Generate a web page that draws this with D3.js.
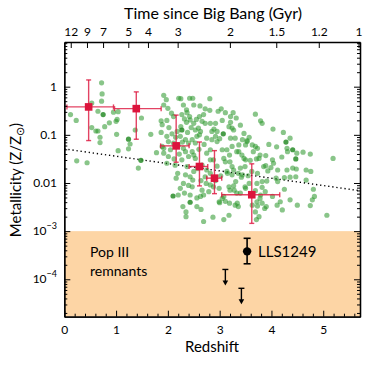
<!DOCTYPE html>
<html>
<head>
<meta charset="utf-8">
<title>Metallicity vs redshift</title>
<script src="https://cdn.jsdelivr.net/npm/d3@7"></script>
<style>
    body { margin: 0; background: #fff; }
    svg { display: block; font-family: Lato, "Open Sans", sans-serif; }
</style>
</head>
<body>
<div id="chart"></div>
<script>
// galaxies: [redshift, log10 Z/Zsun]
const galaxies = [
    [0.12,-0.58],[0.23,-0.70],[0.24,-1.54],[0.44,-1.58],[0.53,-0.34],[0.65,-0.51],[0.72,0.08],[0.73,-0.15],
    [0.72,-0.30],[0.53,-0.85],[0.61,-0.92],[0.65,-0.92],[0.69,-1.05],[0.69,-1.16],[0.78,-0.83],[0.87,-0.75],
    [0.95,-0.53],[1.04,-0.52],[1.00,-0.72],[1.02,-0.68],[1.01,-0.99],[1.04,-1.33],[1.27,-1.19],[1.24,-1.29],
    [1.37,-0.90],[1.49,-0.65],[1.67,-0.99],[1.78,-1.37],[1.43,-1.69],[1.87,-0.95],[1.87,-0.71],[1.89,-0.79],
    [1.92,-0.38],[1.92,-0.18],[1.92,-1.28],[1.89,-1.24],
    [1.97,-0.27],[2.21,-0.24],[2.25,-0.25],[2.48,-0.24],[2.42,-0.24],[2.50,-0.38],[2.81,-0.25],[2.72,-0.46],
    [2.81,-0.49],[2.36,-0.48],[2.07,-0.55],[2.11,-0.62],[1.98,-0.70],[2.27,-0.58],[2.32,-0.67],[2.37,-0.54],
    [2.42,-0.62],[2.43,-0.69],[2.36,-0.74],[2.25,-0.83],[2.50,-0.76],[2.53,-0.90],[2.59,-0.86],[2.63,-0.93],
    [2.61,-1.00],[2.69,-0.58],[2.61,-0.62],[2.72,-0.76],[2.82,-0.76],[2.85,-0.93],[2.75,-1.07],[2.85,-1.10],
    [1.98,-1.03],[2.01,-1.14],[2.11,-1.17],[2.34,-1.10],[2.40,-1.17],[2.47,-1.10],[2.56,-1.03],[2.53,-1.17],
    [2.30,-1.28],[2.24,-1.03],[2.18,-0.93],
    [2.05,-1.31],[2.34,-1.35],[2.50,-1.42],[2.82,-1.31],[2.88,-1.52],[1.92,-1.38],[2.01,-1.45],[1.98,-1.59],
    [2.14,-1.63],[2.27,-1.52],[2.37,-1.66],[2.47,-1.35],[2.53,-1.49],[2.66,-1.63],[2.75,-1.38],[2.82,-1.52],
    [2.75,-1.73],[2.72,-1.87],[2.82,-1.80],[2.43,-1.87],[2.50,-1.76],[2.16,-1.90],[2.19,-1.80],[2.30,-2.01],
    [2.47,-2.08],[2.48,-1.94],[2.69,-2.25],[2.56,-2.31],[2.82,-2.04],[2.74,-2.01],[2.66,-2.15],[2.24,-2.11],
    [2.32,-2.21],[2.29,-2.49],[2.35,-2.60],[2.35,-2.70],[2.56,-2.49],[2.64,-2.55],[2.69,-2.80],[2.87,-2.71],
    [2.43,-2.25],[2.63,-2.28],[2.79,-2.18],[2.88,-2.08],[2.34,-1.83],
    [2.02,-0.85],[2.08,-0.98],[2.15,-1.05],[2.20,-1.22],[2.28,-1.15],[2.38,-0.95],[2.45,-0.85],[2.55,-0.68],
    [2.66,-0.72],[2.70,-1.20],[2.60,-1.30],[2.40,-1.45],[2.22,-1.40],[2.12,-1.50],[2.58,-1.70],[2.64,-1.95],
    [2.40,-2.05],[2.20,-2.25],[2.00,-0.45],[2.30,-0.38],[2.62,-0.40],
    [2.97,-0.51],[3.03,-0.46],[3.11,-0.54],[3.26,-0.54],[3.21,-0.62],[3.32,-0.65],[3.69,-0.57],[3.79,-0.71],
    [3.82,-0.76],[2.92,-0.76],[2.89,-0.88],[2.95,-0.93],[3.21,-0.74],[3.18,-0.83],[3.24,-0.86],[3.27,-0.90],
    [2.92,-1.03],[3.00,-1.08],[2.95,-1.14],[3.21,-1.07],[3.30,-1.07],[3.47,-0.97],[3.44,-1.10],[3.53,-1.12],
    [3.57,-1.05],[3.37,-1.21],[3.50,-1.21],[3.63,-1.21],[3.24,-1.24],[3.73,-1.28],
    [3.05,-1.31],[3.08,-1.49],[3.11,-1.56],[3.37,-1.35],[3.47,-1.49],[3.69,-1.24],[3.76,-1.49],[3.24,-1.83],
    [3.31,-1.97],[3.18,-2.08],[2.99,-2.11],[3.05,-2.32],[2.99,-2.39],[3.34,-2.42],[3.36,-2.49],[3.18,-2.67],
    [3.08,-2.76],[3.50,-2.11],[3.57,-2.01],[3.63,-2.46],[3.69,-2.60],[3.76,-2.70],[3.82,-2.42],[3.79,-2.25],
    [3.44,-1.83],[3.40,-1.69],[3.24,-1.66],[3.15,-1.80],[3.28,-2.15],[3.14,-1.31],[3.19,-1.42],[3.20,-1.56],
    [3.14,-1.76],[3.27,-1.73],[3.36,-1.80],[3.42,-1.88],[3.49,-1.66],[3.62,-1.76],[3.73,-1.80],[3.85,-1.66],
    [3.82,-1.97],[3.72,-2.01],[3.82,-2.09],[3.88,-2.18],[3.69,-2.16],[3.49,-2.08],[3.27,-2.06],[3.33,-2.21],
    [3.20,-2.15],[3.08,-2.28],[3.43,-1.42],[3.33,-1.35],[3.53,-1.14],[3.59,-1.53],[3.71,-1.50],[3.78,-1.42],
    [3.50,-1.52],[3.40,-2.21],[3.00,-2.41],[3.11,-2.38],[3.19,-2.42],[3.30,-2.46],[3.71,-2.76],[3.72,-2.39],
    [3.78,-2.32],[3.73,-2.48],[3.90,-2.49],
    [2.95,-1.65],[3.02,-1.85],[2.92,-1.95],[3.55,-1.85],[3.65,-1.35],[3.40,-0.80],[3.05,-0.70],
    [4.03,-0.88],[4.23,-0.95],[4.36,-1.07],[4.30,-1.28],[4.31,-1.35],[4.49,-1.38],[4.61,-1.36],[4.75,-1.40],
    [5.19,-1.49],[3.89,-1.43],[4.02,-1.52],[4.04,-1.59],[4.20,-1.46],[3.89,-1.64],[3.99,-1.68],[4.12,-1.73],
    [4.30,-1.73],[4.41,-1.69],[4.48,-1.71],[4.67,-1.73],[4.76,-1.76],[3.93,-1.75],[4.09,-1.90],[4.12,-1.97],
    [4.25,-1.89],[4.36,-1.88],[4.47,-1.87],[3.91,-1.96],[4.25,-2.13],[4.81,-2.13],[4.83,-2.28],[4.79,-2.35],
    [4.02,-2.28],[4.17,-2.39],[4.36,-2.35],[4.50,-2.46],[4.75,-2.47],[4.21,-2.56],[5.07,-2.67],[3.87,-2.53],
    [4.67,-1.94],[4.11,-2.46],[3.95,-1.20],[4.10,-1.25]
];
// points that show darker (overlapping measurements)
const galaxiesDark = [
    [0.75,-0.58],[1.24,-1.09],[1.48,-1.53],[2.27,-0.90],[2.10,-2.27],[2.43,-2.40],[3.07,-0.98],
    [4.28,-1.15],[4.41,-1.31],[4.47,-1.50]
];

// binned averages (red squares)
const binZ      = [0.47, 1.39, 2.16, 2.61, 2.90, 3.62];
const binZlo    = [0.05, 0.97, 1.86, 2.41, 2.75, 3.04];
const binZhi    = [0.95, 1.87, 2.41, 2.77, 3.04, 4.16];
const binMet    = [0.38, 0.35, 0.059, 0.022, 0.0126, 0.0057];
const binMetLo  = [0.076, 0.081, 0.027, 0.0087, 0.0060, 0.00145];
const binMetHi  = [1.38, 0.78, 0.257, 0.071, 0.047, 0.025];

// LLS1249 and upper limits
const llsZ = 3.53, llsMet = 3.8e-4, llsMetLo = 2.1e-4, llsMetHi = 7.1e-4;
const limitZ   = [3.11, 3.42];
const limitMet = [1.6e-4, 6.5e-5];

// dotted trend
const trendZ   = [0, 5.71];
const trendMet = [0.051, 0.0069];

const popIIILimit = 1e-3;

const xTicks = [0, 1, 2, 3, 4, 5];
const yTicks = [1, 0.1, 0.01, 1e-3, 1e-4];
const yTickBase = ["1", "0.1", "0.01", "10", "10"];
const yTickExp  = ["", "", "", "\u22123", "\u22124"];
const ageTicks = [12, 9, 7, 5, 4, 3, 2, 1.5, 1.2, 1];

const w = 373, h = 365;
const mLeft = 64.3, mRight = 360, mTop = 42, mBottom = 316.7;

// age (Gyr) -> redshift, flat LCDM H0=70, Om=0.29
function zOfAge(t) {
    const om = 0.29, ol = 0.71, tH = 977.8 / 70;
    const a = Math.sinh(t * 3 * Math.sqrt(ol) / (2 * tH)) / Math.sqrt(ol / om);
    return Math.pow(a, -2 / 3) - 1;
}

const x = d3.scaleLinear().domain([0, 5.71]).range([mLeft, mRight]);
const y = d3.scaleLog().domain([Math.pow(10, -4.777), Math.pow(10, 0.928)]).range([mBottom, mTop]);

const svg = d3.select("#chart").append("svg")
    .attr("width", w).attr("height", h);

// Pop III region
svg.append("rect")
    .attr("x", mLeft).attr("y", y(popIIILimit))
    .attr("width", mRight - mLeft).attr("height", mBottom - y(popIIILimit))
    .attr("fill", "#fdd5a5");

// trend line
svg.append("line")
    .attr("x1", x(trendZ[0])).attr("y1", y(trendMet[0]))
    .attr("x2", x(trendZ[1])).attr("y2", y(trendMet[1]))
    .attr("stroke", "#000").attr("stroke-width", 1.4)
    .attr("stroke-dasharray", "1.3,2.8");

// galaxies
svg.append("g").selectAll("circle")
    .data(galaxies).enter().append("circle")
    .attr("cx", d => x(d[0])).attr("cy", d => y(Math.pow(10, d[1])))
    .attr("r", 2.6)
    .attr("fill", "rgb(40,150,40)").attr("fill-opacity", 0.55);

svg.append("g").selectAll("circle")
    .data(galaxiesDark).enter().append("circle")
    .attr("cx", d => x(d[0])).attr("cy", d => y(Math.pow(10, d[1])))
    .attr("r", 2.6)
    .attr("fill", "rgb(40,140,40)").attr("fill-opacity", 0.85);

// red binned points
const red = "#dc143c";
const bins = svg.append("g");
binZ.forEach((z, i) => {
    const cx = x(z), cy = y(binMet[i]);
    const g = bins.append("g").attr("stroke", red).attr("stroke-opacity", 0.8).attr("stroke-width", 1.4);
    g.append("line").attr("x1", x(binZlo[i])).attr("x2", x(binZhi[i])).attr("y1", cy).attr("y2", cy);
    g.append("line").attr("x1", cx).attr("x2", cx).attr("y1", y(binMetLo[i])).attr("y2", y(binMetHi[i]));
    [x(binZlo[i]), x(binZhi[i])].forEach(px =>
        g.append("line").attr("x1", px).attr("x2", px).attr("y1", cy - 2.5).attr("y2", cy + 2.5));
    [y(binMetLo[i]), y(binMetHi[i])].forEach(py =>
        g.append("line").attr("x1", cx - 2.5).attr("x2", cx + 2.5).attr("y1", py).attr("y2", py));
    bins.append("rect").attr("x", cx - 3.8).attr("y", cy - 3.8)
        .attr("width", 7.6).attr("height", 7.6).attr("fill", red);
});

// LLS1249
const lls = svg.append("g").attr("stroke", "#000").attr("stroke-width", 1.6);
lls.append("line").attr("x1", x(llsZ)).attr("x2", x(llsZ)).attr("y1", y(llsMetLo)).attr("y2", y(llsMetHi));
[llsMetLo, llsMetHi].forEach(m =>
    lls.append("line").attr("x1", x(llsZ) - 3.5).attr("x2", x(llsZ) + 3.5).attr("y1", y(m)).attr("y2", y(m)));
svg.append("circle").attr("cx", x(llsZ)).attr("cy", y(llsMet)).attr("r", 4.2).attr("fill", "#000");

// upper limits
limitZ.forEach((z, i) => {
    const cx = x(z), y0 = y(limitMet[i]), len = 16;
    const g = svg.append("g").attr("stroke", "#000").attr("stroke-width", 1.4);
    g.append("line").attr("x1", cx - 3).attr("x2", cx + 3).attr("y1", y0).attr("y2", y0);
    g.append("line").attr("x1", cx).attr("x2", cx).attr("y1", y0).attr("y2", y0 + len - 3);
    svg.append("path")
        .attr("d", `M${cx - 2.8},${y0 + len - 5}L${cx + 2.8},${y0 + len - 5}L${cx},${y0 + len}Z`)
        .attr("fill", "#000");
});

// axes
function styleAxis(g) {
    g.select(".domain").attr("stroke", "#000").attr("stroke-width", 1.3);
    g.selectAll(".tick line").attr("stroke", "#000").attr("stroke-width", 1);
    g.selectAll("text").attr("font-family", "Lato, sans-serif").attr("font-size", 12).attr("fill", "#000");
}

const xMinor = d3.range(0, 5.71, 0.2).filter(v => Math.abs(v - Math.round(v)) > 0.01);
const yMinor = [];
for (let e = -5; e <= 0; e++) for (let k = 2; k <= 9; k++) {
    const v = k * Math.pow(10, e);
    if (v > y.domain()[0] && v < y.domain()[1]) yMinor.push(v);
}

// bottom
svg.append("g").attr("transform", `translate(0,${mBottom})`)
    .call(d3.axisBottom(x).tickValues(xMinor).tickSize(-3).tickSizeOuter(0).tickFormat(""))
    .call(styleAxis);
svg.append("g").attr("transform", `translate(0,${mBottom})`)
    .call(d3.axisBottom(x).tickValues(xTicks).tickSize(-6).tickSizeOuter(0).tickPadding(9).tickFormat(d3.format("d")))
    .call(styleAxis);

// top (age)
svg.append("g").attr("transform", `translate(0,${mTop})`)
    .call(d3.axisTop(x).tickValues(ageTicks.map(zOfAge)).tickSize(-6).tickSizeOuter(0).tickPadding(6)
        .tickFormat((d, i) => ageTicks[i]))
    .call(styleAxis);

// left
svg.append("g").attr("transform", `translate(${mLeft},0)`)
    .call(d3.axisLeft(y).tickValues(yMinor).tickSize(-3).tickSizeOuter(0).tickFormat(""))
    .call(styleAxis);
svg.append("g").attr("transform", `translate(${mLeft},0)`)
    .call(d3.axisLeft(y).tickValues(yTicks).tickSize(-6).tickSizeOuter(0).tickFormat(""))
    .call(styleAxis);

// right
svg.append("g").attr("transform", `translate(${mRight},0)`)
    .call(d3.axisRight(y).tickValues(yMinor).tickSize(-3).tickSizeOuter(0).tickFormat(""))
    .call(styleAxis);
svg.append("g").attr("transform", `translate(${mRight},0)`)
    .call(d3.axisRight(y).tickValues(yTicks).tickSize(-6).tickSizeOuter(0).tickFormat(""))
    .call(styleAxis);

// y tick labels
yTicks.forEach((v, i) => {
    const t = svg.append("text")
        .attr("x", 57).attr("y", y(v)).attr("dy", "0.35em")
        .attr("text-anchor", "end").attr("font-size", 12);
    t.append("tspan").text(yTickBase[i]);
    if (yTickExp[i]) t.append("tspan").attr("dy", -6).attr("font-size", 9).text(yTickExp[i]);
});

// axis titles
svg.append("text").attr("x", 212).attr("y", 352).attr("text-anchor", "middle")
    .attr("font-size", 15).text("Redshift");
svg.append("text").attr("x", 213).attr("y", 19).attr("text-anchor", "middle")
    .attr("font-size", 16).text("Time since Big Bang (Gyr)");
const yl = svg.append("text").attr("transform", "translate(21,180) rotate(-90)")
    .attr("text-anchor", "middle").attr("font-size", 15);
yl.append("tspan").text("Metallicity (Z/Z");
yl.append("tspan").attr("dy", 3).attr("font-size", 11).text("\u2299");
yl.append("tspan").attr("dy", -3).text(")");

// annotations
svg.append("text").attr("x", 90).attr("y", 257).attr("font-size", 14).text("Pop III");
svg.append("text").attr("x", 90).attr("y", 276).attr("font-size", 14).text("remnants");
svg.append("text").attr("x", 258).attr("y", 257).attr("font-size", 15).text("LLS1249");
</script>
</body>
</html>
